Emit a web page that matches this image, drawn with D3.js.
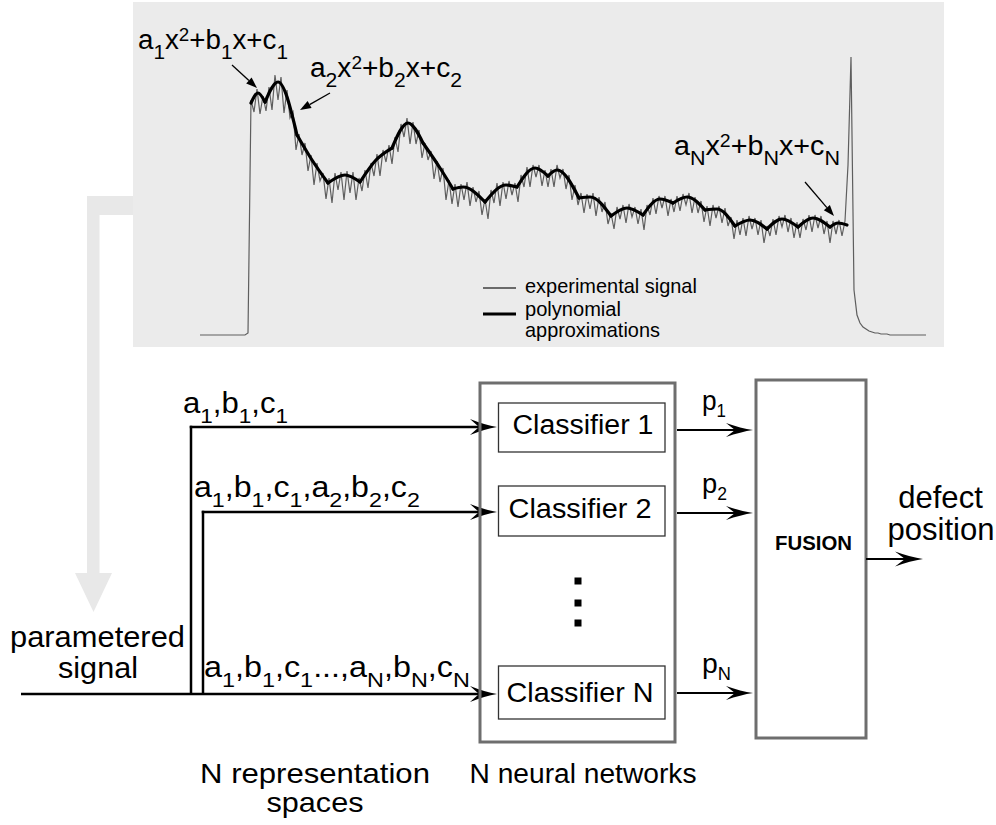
<!DOCTYPE html>
<html><head><meta charset="utf-8">
<script src="https://cdn.jsdelivr.net/npm/d3@7"></script>
<style>
html,body{margin:0;padding:0;background:#fff;}
svg text{font-family:"Liberation Sans", Arial, Helvetica, sans-serif;fill:#000;}
</style></head><body>
<svg id="fig" width="996" height="825"></svg>
<script>
// ---------------- DATA ----------------
// experimental signal, one sample every 3 time units starting at t = 0
const sampleStep = 3;
const signal = [
  0,0,0,0,0,0,0,0,0,0,0,0,0,0,0,0,2,
  235,223,246,221,239,224,248,225,260,235,
  258,222,245,217,223,185,201,180,192,164,
  180,150,172,154,162,136,157,132,162,145,
  163,135,164,142,163,135,157,144,165,147,
  172,159,181,159,185,173,190,171,198,183,
  211,198,217,191,213,191,205,177,192,175,
  184,156,174,153,167,135,155,131,151,128,
  151,135,153,129,148,133,144,120,136,116,
  145,132,152,129,153,136,154,140,152,133,
  160,148,168,148,170,158,170,149,165,148,
  166,148,170,157,166,146,160,135,150,130,
  142,122,141,126,142,119,138,123,133,111,
  122,106,128,116,130,112,131,118,128,111,
  126,105,130,120,137,121,139,127,139,119,
  136,123,139,124,141,130,142,122,138,122,
  134,113,129,109,130,117,129,112,127,109,
  118,96,115,100,117,99,119,106,117,100,
  115,92,109,99,116,100,119,108,120,103,
  117,97,113,97,116,105,120,103,120,107,
  119,101,114,92,114,101,115,99,114,
  170,278,45,20,12,8,6,4,3,2,2,1,1,1,
  0,0,0,0,0,0,0,0,0,0,0,0,0
];
// piecewise quadratic approximations: [start, vertex/middle, end] as [t, amplitude]
const polySegments = [
  [[51,232],[58,242],[65,233]],
  [[65,233],[78,253],[97,200]],
  [[97,200],[112,175],[128,152]],
  [[128,152],[145,160],[160,153]],
  [[160,153],[176,175],[192,187]],
  [[192,187],[208,212],[223,192]],
  [[223,192],[240,167],[253,146]],
  [[253,146],[263,148],[285,133]],
  [[285,133],[306,150],[317,148]],
  [[317,148],[335,167],[348,159]],
  [[348,159],[357,165],[379,137]],
  [[379,137],[390,138],[411,119]],
  [[411,119],[427,127],[443,120]],
  [[443,120],[460,136],[473,132]],
  [[473,132],[487,138],[505,125]],
  [[505,125],[517,126],[535,109]],
  [[535,109],[550,115],[567,106]],
  [[567,106],[582,116],[598,108]],
  [[598,108],[613,117],[630,108]],
  [[630,108],[638,112],[647,110]]
];
// annotated points on the approximation curve [t, amplitude]
const annotatedPoints = [[57,247],[100,225],[634,119]];
const equationLabels = ["a_1x^2+b_1x+c_1", "a_2x^2+b_2x+c_2", "a_Nx^2+b_Nx+c_N"];
const legendLabels = ["experimental signal", "polynomial", "approximations"];
const inputLabels = ["a_1,b_1,c_1", "a_1,b_1,c_1,a_2,b_2,c_2", "a_1,b_1,c_1...,a_N,b_N,c_N"];
const classifierNames = ["Classifier 1", "Classifier 2", "Classifier N"];
const outputLabels = ["p_1", "p_2", "p_N"];

// ---------------- HELPERS ----------------
const svg = d3.select("#fig");

function parseRich(s) {
  const parts = []; let i = 0;
  while (i < s.length) {
    const ch = s[i];
    if (ch === '_' || ch === '^') { parts.push({t: s[i+1], k: ch === '_' ? 'sub' : 'sup'}); i += 2; }
    else { let j = i; while (j < s.length && s[j] !== '_' && s[j] !== '^') j++; parts.push({t: s.slice(i, j), k: 'n'}); i = j; }
  }
  return parts;
}
function richLabel(parent, spec) {
  const g = parent.append("g");
  const t = g.append("text").attr("x", 0).attr("y", 0)
    .attr("font-size", spec.size).attr("text-anchor", spec.anchor || "start");
  if (spec.weight) t.attr("font-weight", spec.weight);
  let cur = 0;
  parseRich(spec.str).forEach(p => {
    const target = p.k === 'sub' ? (spec.subDy || 0) : p.k === 'sup' ? -(spec.supDy || 0) : 0;
    const ts = t.append("tspan").text(p.t).attr("dy", target - cur);
    if (p.k === 'sub') ts.attr("font-size", spec.sub);
    if (p.k === 'sup') ts.attr("font-size", spec.sup);
    cur = target;
  });
  let sx = 1;
  if (spec.w) {
    const bb = t.node().getBBox();
    sx = Math.max(0.8, Math.min(1.3, spec.w / bb.width));
  }
  g.attr("transform", `translate(${spec.x},${spec.y}) scale(${sx},1)`);
  return g;
}
function bigArrowHead(parent, x, y, opts) {
  const L = opts.len, H = opts.hw, N = opts.notch;
  parent.append("path")
    .attr("d", `M0,0 Q${-L*0.45},${-H*0.25} ${-L},${-H} L${-N},0 L${-L},${H} Q${-L*0.45},${H*0.25} 0,0 Z`)
    .attr("transform", `translate(${x},${y})`)
    .attr("fill", "#000");
}
function hArrow(parent, x0, x1, y, sw, head) {
  parent.append("line").attr("x1", x0).attr("x2", x1 - head.notch).attr("y1", y).attr("y2", y)
    .attr("stroke", "#000").attr("stroke-width", sw);
  bigArrowHead(parent, x1, y, head);
}

// ---------------- SIGNAL PANEL ----------------
const panel = {x: 133, y: 2, w: 811, h: 345};
svg.append("rect").attr("x", panel.x).attr("y", panel.y).attr("width", panel.w).attr("height", panel.h)
  .attr("fill", "#ebebeb");

// big light-grey flow arrow
svg.append("path")
  .attr("d", "M133,196 L87,196 L87,573 L75,573 L93.5,612 L112,573 L99.5,573 L99.5,215 L133,215 Z")
  .attr("fill", "#e8e8e8");

const x = d3.scaleLinear().domain([0, 730]).range([200, 930]);
const y = d3.scaleLinear().domain([0, 300]).range([335, 35]);

const sigLine = d3.line().x((d, i) => x(i * sampleStep)).y(d => y(d));
svg.append("path").datum(signal).attr("d", sigLine)
  .attr("fill", "none").attr("stroke", "#5e5e5e").attr("stroke-width", 1.2).attr("stroke-linejoin", "miter");

const polyLine = d3.line().x(d => x(d[0])).y(d => y(d[1])).curve(d3.curveMonotoneX);
svg.append("g").selectAll("path").data(polySegments).join("path")
  .attr("d", polyLine).attr("fill", "none").attr("stroke", "#000")
  .attr("stroke-width", 3.2).attr("stroke-linecap", "round").attr("stroke-linejoin", "round");

// equation labels and pointers
const eqSpecs = [
  {x: 138, y: 49, w: 150, from: [232, 65]},
  {x: 310, y: 77, w: 152, from: [330, 93]},
  {x: 674, y: 155, w: 166, from: [805, 182]}
];
equationLabels.forEach((s, i) => {
  const sp = eqSpecs[i];
  richLabel(svg, {str: s, x: sp.x, y: sp.y, size: 28, sub: 21, sup: 19, subDy: 10, supDy: 8, w: sp.w});
  const tx = x(annotatedPoints[i][0]), ty = y(annotatedPoints[i][1]);
  const fx = sp.from[0], fy = sp.from[1];
  const ang = Math.atan2(ty - fy, tx - fx);
  const hl = 11, hw = 4;
  const bx = tx - hl * Math.cos(ang), by = ty - hl * Math.sin(ang);
  svg.append("line").attr("x1", fx).attr("y1", fy).attr("x2", bx).attr("y2", by)
    .attr("stroke", "#000").attr("stroke-width", 1.3);
  const px = -Math.sin(ang) * hw, py = Math.cos(ang) * hw;
  svg.append("path").attr("d", `M${tx},${ty} L${bx + px},${by + py} L${bx - px},${by - py} Z`).attr("fill", "#000");
});

// legend
svg.append("line").attr("x1", 483).attr("x2", 516).attr("y1", 288).attr("y2", 288)
  .attr("stroke", "#6a6a6a").attr("stroke-width", 2);
svg.append("line").attr("x1", 483).attr("x2", 516).attr("y1", 314).attr("y2", 314)
  .attr("stroke", "#000").attr("stroke-width", 3);
const legendSpecs = [{y: 293, w: 172}, {y: 316, w: 96}, {y: 337, w: 135}];
legendLabels.forEach((s, i) => richLabel(svg, {str: s, x: 525, y: legendSpecs[i].y, size: 20, w: legendSpecs[i].w}));

// ---------------- BLOCK DIAGRAM ----------------
const d = svg.append("g");
const rowY = [427, 512, 694];
const branchX = [191, 203];
const inputTip = 497;
const headIn = {len: 27, hw: 8, notch: 18};
const headOut = {len: 27, hw: 7, notch: 18};

// branch verticals
branchX.forEach((bx, i) => {
  d.append("line").attr("x1", bx).attr("x2", bx).attr("y1", rowY[i] - 1.25).attr("y2", rowY[2])
    .attr("stroke", "#000").attr("stroke-width", 2.5);
});
// horizontal inputs
hArrow(d, branchX[0] - 1.25, inputTip, rowY[0], 2.5, headIn);
hArrow(d, branchX[1] - 1.25, inputTip, rowY[1], 2.5, headIn);
hArrow(d, 21, inputTip, rowY[2], 2.5, headIn);

// input labels
const inSpecs = [{x: 183, y: 413, w: 105}, {x: 194, y: 497, w: 226}, {x: 204, y: 677, w: 266}];
inputLabels.forEach((s, i) => richLabel(d, {str: s, x: inSpecs[i].x, y: inSpecs[i].y, size: 29, sub: 21, subDy: 10, w: inSpecs[i].w}));

// neural-network container
d.append("rect").attr("x", 480).attr("y", 383).attr("width", 195).attr("height", 359)
  .attr("fill", "none").attr("stroke", "#6e6e6e").attr("stroke-width", 3);
// classifier boxes
const clfBoxes = [{y0: 403, y1: 452}, {y0: 486, y1: 536}, {y0: 666, y1: 719}];
const clfText = [{cx: 583, y: 434, w: 141}, {cx: 580, y: 518, w: 143}, {cx: 580, y: 702, w: 147}];
classifierNames.forEach((s, i) => {
  d.append("rect").attr("x", 498.5).attr("y", clfBoxes[i].y0).attr("width", 166.5)
    .attr("height", clfBoxes[i].y1 - clfBoxes[i].y0)
    .attr("fill", "#fff").attr("stroke", "#333").attr("stroke-width", 1.3);
  richLabel(d, {str: s, x: clfText[i].cx, y: clfText[i].y, size: 27, anchor: "middle", w: clfText[i].w});
});
// vertical ellipsis
[581, 603, 623].forEach(cy => d.append("rect").attr("x", 574.5).attr("y", cy - 3.5).attr("width", 7).attr("height", 7).attr("fill", "#000"));

// fusion box
d.append("rect").attr("x", 756).attr("y", 380).attr("width", 110).attr("height", 358)
  .attr("fill", "none").attr("stroke", "#6e6e6e").attr("stroke-width", 3);
richLabel(d, {str: "FUSION", x: 813.5, y: 550, size: 21, anchor: "middle", weight: "bold", w: 77});

// outputs p_i
const outY = [430, 513, 693];
const pBase = [410, 493, 673];
const pW = [24, 25, 29];
outputLabels.forEach((s, i) => {
  hArrow(d, 677, 753, outY[i], 2, headOut);
  richLabel(d, {str: s, x: 702, y: pBase[i], size: 28, sub: 18, subDy: 7, w: pW[i]});
});

// final output
hArrow(d, 866, 923, 559, 2, {len: 28, hw: 7.5, notch: 18});
richLabel(d, {str: "defect", x: 940.5, y: 508, size: 31, anchor: "middle", w: 85});
richLabel(d, {str: "position", x: 941, y: 540, size: 31, anchor: "middle", w: 107});

// left / bottom captions
richLabel(d, {str: "parametered", x: 97.5, y: 647, size: 30, anchor: "middle", w: 175});
richLabel(d, {str: "signal", x: 98, y: 678, size: 30, anchor: "middle", w: 80});
richLabel(d, {str: "N representation", x: 315, y: 783, size: 28, anchor: "middle", w: 230});
richLabel(d, {str: "spaces", x: 315, y: 812, size: 28, anchor: "middle", w: 97});
richLabel(d, {str: "N neural networks", x: 583, y: 783, size: 28, anchor: "middle", w: 227});
</script>
</body></html>
